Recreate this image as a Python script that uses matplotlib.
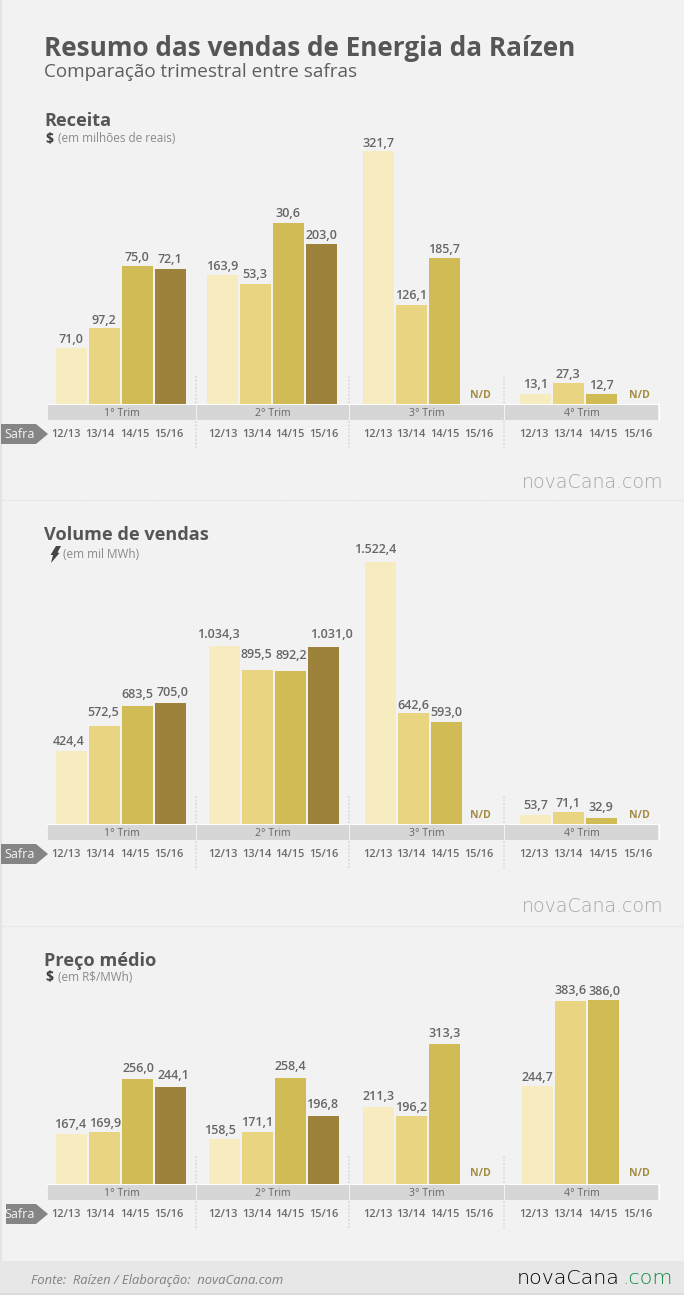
import matplotlib
matplotlib.use("Agg")
import matplotlib.pyplot as plt
from matplotlib.patches import Rectangle, Polygon

# ---------- data ----------
quarters = ["1° Trim", "2° Trim", "3° Trim", "4° Trim"]
seasons = ["12/13", "13/14", "14/15", "15/16"]

# bar values as drawn (some printed labels in the source differ from bar height)
receita_values = [[71.0, 97.2, 175.0, 172.1], [163.9, 153.3, 230.6, 203.0],
                  [321.7, 126.1, 185.7, None], [13.1, 27.3, 12.7, None]]
receita_labels = [["71,0", "97,2", "75,0", "72,1"], ["163,9", "53,3", "30,6", "203,0"],
                  ["321,7", "126,1", "185,7", "N/D"], ["13,1", "27,3", "12,7", "N/D"]]
volume_values = [[424.4, 572.5, 683.5, 705.0], [1034.3, 895.5, 892.2, 1031.0],
                 [1522.4, 642.6, 593.0, None], [53.7, 71.1, 32.9, None]]
volume_labels = [["424,4", "572,5", "683,5", "705,0"], ["1.034,3", "895,5", "892,2", "1.031,0"],
                 ["1.522,4", "642,6", "593,0", "N/D"], ["53,7", "71,1", "32,9", "N/D"]]
preco_values = [[167.4, 169.9, 256.0, 244.1], [158.5, 171.1, 258.4, 196.8],
                [211.3, 196.2, 313.3, None], [244.7, 383.6, 386.0, None]]
preco_labels = [["167,4", "169,9", "256,0", "244,1"], ["158,5", "171,1", "258,4", "196,8"],
                ["211,3", "196,2", "313,3", "N/D"], ["244,7", "383,6", "386,0", "N/D"]]

# ---------- layout / style ----------
W, H = 684, 1295
FONT = "Open Sans"
LOGO = "DejaVu Sans"
colors = ["#f7ecbf", "#e9d581", "#d1bb55", "#9d823c"]
panels = [
    dict(title="Receita", unit="(em milhões de reais)", icon="$", unit_x=58, top=100, base=404,
         ylim=(0, 386.8), starts=[56, 207, 363, 520], values=receita_values, labels=receita_labels,
         dx=[[0, 0, 0, 0], [0, 0, 0, 0], [0, 0, 0, 0], [0, 0, 0, 0]],
         dy=[[10, 8, 10, 10], [10, 10, 10, 10], [9, 10, 10, 10], [10, 9, 10, 10]],
         title_y=121, unit_y=139, nd_y=396, watermark=482),
    dict(title="Volume de vendas", unit="(em mil MWh)", icon="bolt", unit_x=63, top=520, base=824,
         ylim=(0, 1767), starts=[56, 209, 365, 520], values=volume_values, labels=volume_labels,
         dx=[[-3, -1, 0, 2], [-6, -1, 1, 8], [-5, 0, 0, 0], [0, 0, 0, 0]],
         dy=[[10, 14, 13, 11], [13, 16, 16, 13], [14, 9, 10, 10], [10, 9, 12, 10]],
         title_y=536, unit_y=555, nd_y=815, watermark=906),
    dict(title="Preço médio", unit="(em R$/MWh)", icon="$", unit_x=58, top=950, base=1184,
         ylim=(86, 466.5), starts=[56, 209, 363, 522], values=preco_values, labels=preco_labels,
         dx=[[-1, 1, 1, 3], [-4, 0, 0, -1], [0, 0, 0, 0], [0, 0, 1, 0]],
         dy=[[10, 10, 12, 12], [10, 10, 12, 12], [11, 10, 12, 10], [10, 11, 9, 10]],
         title_y=962, unit_y=978, nd_y=1174, watermark=None),
]
STEP, BAR_W = 33, 30.5
tick_x = [[65.7, 100, 134.6, 169.3], [223, 256.7, 290, 323.7],
          [377.7, 411, 445, 478.7], [534, 568.3, 603, 637.7]]
bands = [(48, 195.5), (197, 348.5), (350, 503.5), (505, 658)]
dividers = [196.2, 349.2, 504.2]

fig = plt.figure(figsize=(W / 100, H / 100), dpi=100, facecolor="#f2f2f2")
bg = fig.add_axes([0, 0, 1, 1], zorder=0)
bg.set_xlim(0, W); bg.set_ylim(H, 0); bg.axis("off")


def txt(x, y, s, size, color="#5a5a5a", weight="normal", ha="left", style="normal", family=FONT):
    return bg.text(x, y, s, fontsize=size * 0.72, color=color, fontweight=weight, ha=ha,
                   va="center", family=family, style=style, zorder=6)


bg.add_patch(Rectangle((0, 0), 1.6, H, color="#e4e4e4", lw=0))
bg.add_patch(Rectangle((0, 1261), W, 32, color="#e7e7e7", lw=0))
bg.add_patch(Rectangle((0, 1293), W, 2, color="#dcdcdc", lw=0))
for y in (499.5, 925.5):
    bg.plot([2, W], [y, y], color="#e0e0e0", lw=1, ls=(0, (1, 1)))

txt(43.5, 48.5, "Resumo das vendas de Energia da Raízen", 26.1, "#565656", "bold")
txt(43.5, 72, "Comparação trimestral entre safras", 18.9, "#5e5e5e")

for p in panels:
    ax = fig.add_axes([0, 1 - p["base"] / H, 1, (p["base"] - p["top"]) / H], zorder=2)
    ax.patch.set_alpha(0)
    ax.set_xlim(0, W); ax.set_ylim(*p["ylim"]); ax.axis("off")
    base = p["base"]
    for q, start in enumerate(p["starts"]):
        for i in range(4):
            v = p["values"][q][i]
            left = start + i * STEP
            if v is None:
                continue
            ax.bar(left + BAR_W / 2, v - p["ylim"][0], BAR_W, bottom=p["ylim"][0],
                   color=colors[i], lw=0, clip_on=True)
            ax.annotate(p["labels"][q][i], (left + BAR_W / 2, v),
                        xytext=(p["dx"][q][i] * 0.72, (p["dy"][q][i] - 1) * 0.72), textcoords="offset points",
                        ha="center", va="center", fontsize=12.5 * 0.72, color="#666666",
                        fontweight="semibold", family=FONT, annotation_clip=False)
    # panel heading
    txt(44.5, p["title_y"] - 0.5, p["title"], 18.2, "#555555", "bold")
    if p["icon"] == "$":
        txt(45.5, p["unit_y"] - 0.5, "$", 14, "#3c3c3c", "bold")
    else:
        uy = p["unit_y"] - 1
        bg.add_patch(Polygon([[56, uy - 8], [61, uy - 8], [57.5, uy - 1.5], [59.5, uy - 1],
                              [51, uy + 9], [53, uy + 1], [50.5, uy + 1]], color="#444444", lw=0))
    txt(p["unit_x"], p["unit_y"] - 0.5, p["unit"], 11.8, "#8a8a8a")
    # quarter bands
    bg.plot([48, 659], [base + 0.5, base + 0.5], color="white", lw=1.2, zorder=3)
    for (a, b), q in zip(bands, quarters):
        bg.add_patch(Rectangle((a, base + 1.2), b - a, 14.8, color="#d6d6d6", lw=0, zorder=3))
        txt((a + b) / 2, base + 9, q, 10.5, "#666666", ha="center")
    bg.plot([658.5, 658.5], [base, base + 16], color="white", lw=1, zorder=3)
    for x in dividers:
        bg.plot([x, x], [base - 28, base], color="#dadada", lw=1.3, ls=(0, (1, 1)), zorder=1)
        bg.plot([x, x], [base + 17, base + 46], color="#dadada", lw=1.3, ls=(0, (1, 1)), zorder=1)
    # safra tag and season labels
    ty = base + 30
    x0 = 6 if p["ylim"][0] else 1
    bg.add_patch(Polygon([[x0, ty - 10], [36, ty - 10], [48, ty], [36, ty + 10], [x0, ty + 10]],
                         color="#858585", lw=0, zorder=3))
    txt(20, ty, "Safra", 12.5, "#f4f4f4", ha="center")
    for q in range(4):
        for i, s in enumerate(seasons):
            txt(tick_x[q][i], ty + 0.5, s, 11, "#6a6a6a", "semibold", ha="center")
            if p["labels"][q][i] == "N/D":
                txt(tick_x[q][i] + 2, p["nd_y"], "N/D", 10.5, "#a38c42", "bold", ha="center")
    if p["watermark"]:
        txt(522, p["watermark"], "novaCana.com", 19, "#a6a6a6", weight=200, family=LOGO)

txt(31, 1280.5, "Fonte:  Raízen / Elaboração:  novaCana.com", 13.05, "#808080", style="italic")
txt(517, 1279, "novaCana", 20.5, "#000000", weight=200, family=LOGO)
txt(622, 1279, ".com", 20.5, "#0c8a3e", weight=200, family=LOGO)

fig.savefig("out.png", dpi=100, facecolor=fig.get_facecolor())
